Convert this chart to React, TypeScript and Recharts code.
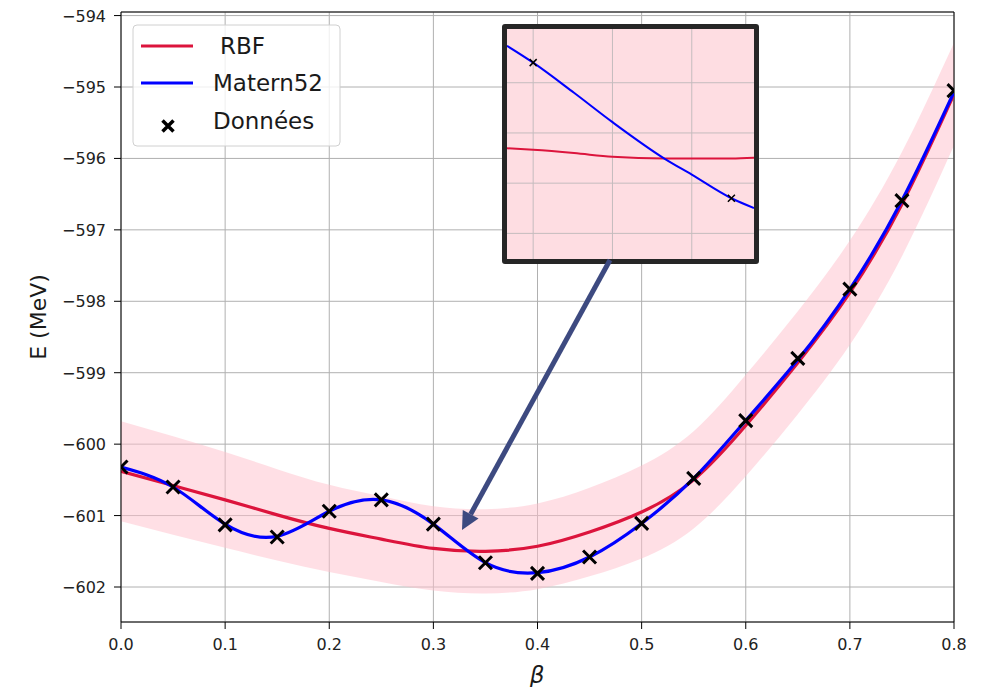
import React from 'react'
import {
  ComposedChart,
  LineChart,
  Line,
  Area,
  XAxis,
  YAxis,
  CartesianGrid,
  ReferenceLine
} from 'recharts'

// beta grid of the data points
const betas = [0, 0.05, 0.1, 0.15, 0.2, 0.25, 0.3, 0.35, 0.4, 0.45, 0.5, 0.55, 0.6, 0.65, 0.7, 0.75, 0.8]

// "Données" (black crosses)
const donnees = [
  -600.32, -600.6, -601.13, -601.3, -600.94, -600.78, -601.12, -601.66, -601.81,
  -601.58, -601.11, -600.48, -599.67, -598.8, -597.83, -596.59, -595.05
]

// RBF mean and its half band width
const rbfMean = [
  -600.38, -600.58, -600.78, -600.99, -601.18, -601.33, -601.46, -601.5, -601.43,
  -601.23, -600.95, -600.5, -599.74, -598.86, -597.88, -596.64, -595.1
]
const rbfHalf = [0.7, 0.69, 0.67, 0.64, 0.61, 0.6, 0.59, 0.59, 0.6, 0.62, 0.65, 0.68, 0.71, 0.72, 0.73, 0.73, 0.72]

// Matern52 mean
const matern52 = [
  -600.32, -600.6, -601.12, -601.29, -600.94, -600.78, -601.12, -601.66, -601.8,
  -601.58, -601.11, -600.48, -599.67, -598.82, -597.83, -596.59, -595.07
]

const xTicks = [0, 0.1, 0.2, 0.3, 0.4, 0.5, 0.6, 0.7, 0.8]
const yTicks = [-602, -601, -600, -599, -598, -597, -596, -595, -594]
const yDomain: [number, number] = [-602.49, -593.95]

// zoomed inset
const insetBetas = [0.2934, 0.3, 0.3103, 0.32, 0.3331, 0.34, 0.35, 0.3557]
const insetMatern = [-601.053, -601.12, -601.24, -601.357, -601.502, -601.566, -601.66, -601.699]
const insetMaternHalf = [0.004, 0.004, 0.012, 0.016, 0.012, 0.008, 0.004, 0.004]
const insetRbf = [-601.461, -601.467, -601.48, -601.495, -601.502, -601.502, -601.502, -601.499]
const insetPoints = [0.3, 0.35]
const insetXGrid = [0.3, 0.32, 0.34]
const insetYGrid = [-601.2, -601.4, -601.6, -601.8]

const rows = betas.map((b, i) => ({
  beta: b,
  data: donnees[i],
  rbf: rbfMean[i],
  band: [rbfMean[i] - rbfHalf[i], rbfMean[i] + rbfHalf[i]],
  matern: matern52[i]
}))

const insetRows = insetBetas.map((b, i) => ({
  beta: b,
  matern: insetMatern[i],
  mband: [insetMatern[i] - insetMaternHalf[i], insetMatern[i] + insetMaternHalf[i]],
  rbf: insetRbf[i],
  pt: insetPoints.includes(b) ? insetMatern[i] : null
}))

const FONT = '"DejaVu Sans", sans-serif'
const minus = (v: number) => (v < 0 ? `\u2212${Math.abs(v)}` : `${v}`)

const cross = (s: number, w: number) => (props: any) => {
  const { cx, cy, index } = props
  if (cx == null || cy == null || props.value == null) return <g key={`n-${index}`} />
  return (
    <path
      key={`x-${index}`}
      d={`M${cx - s},${cy - s}L${cx + s},${cy + s}M${cx - s},${cy + s}L${cx + s},${cy - s}`}
      stroke="#000"
      strokeWidth={w}
      fill="none"
    />
  )
}

const XTick = (p: any) => (
  <text x={p.x} y={p.y + 15} textAnchor="middle" fontSize={16} fill="#222" fontFamily={FONT}>
    {Number(p.payload.value).toFixed(1)}
  </text>
)

const YTick = (p: any) => (
  <text x={p.x} y={p.y + 6} textAnchor="end" fontSize={16} fill="#222" fontFamily={FONT}>
    {minus(p.payload.value)}
  </text>
)

function Inset() {
  return (
    <div
      style={{
        position: 'absolute',
        left: 502,
        top: 24,
        width: 257,
        height: 240,
        boxSizing: 'border-box',
        border: '5px solid #262626',
        borderRadius: 3,
        background: '#fedde2',
        overflow: 'hidden'
      }}
    >
      <LineChart width={247} height={230} data={insetRows} margin={{ top: 0, right: 0, bottom: 0, left: 0 }}>
        <XAxis dataKey="beta" type="number" domain={[0.2934, 0.3557]} hide allowDataOverflow />
        <YAxis type="number" domain={[-601.902, -600.986]} hide allowDataOverflow />
        {insetXGrid.map((v) => (
          <ReferenceLine key={`ix${v}`} x={v} stroke="#c4bcbe" strokeWidth={1} />
        ))}
        {insetYGrid.map((v) => (
          <ReferenceLine key={`iy${v}`} y={v} stroke="#c4bcbe" strokeWidth={1} />
        ))}
        <Area dataKey="mband" type="monotone" stroke="none" fill="#aab2dd" fillOpacity={0.6} isAnimationActive={false} />
        <Line dataKey="rbf" type="monotone" stroke="#dc143c" strokeWidth={2} dot={false} isAnimationActive={false} />
        <Line dataKey="matern" type="monotone" stroke="#0000ff" strokeWidth={2} dot={false} isAnimationActive={false} />
        <Line dataKey="pt" stroke="none" dot={cross(3.5, 1.5)} activeDot={false} isAnimationActive={false} />
      </LineChart>
    </div>
  )
}

export default function App() {
  // arrow geometry (from inset to region of interest)
  const tail = { x: 610, y: 260 }
  const tip = { x: 462, y: 530 }
  const dx = tip.x - tail.x
  const dy = tip.y - tail.y
  const len = Math.hypot(dx, dy)
  const ux = dx / len
  const uy = dy / len
  const bx = tip.x - 18 * ux
  const by = tip.y - 18 * uy
  const hw = 9

  return (
    <div style={{ position: 'absolute', left: 0, top: 0, width: 982, height: 687, background: '#fff', fontFamily: FONT }}>
      <ComposedChart width={982} height={687} data={rows} margin={{ top: 12, right: 28, bottom: 0, left: 0 }}>
        <CartesianGrid stroke="#b0b0b0" strokeWidth={1} />
        <XAxis
          dataKey="beta"
          type="number"
          domain={[0, 0.8]}
          ticks={xTicks}
          height={65}
          tick={<XTick />}
          tickSize={7}
          tickMargin={6}
          stroke="#000"
          allowDataOverflow
        />
        <YAxis
          type="number"
          domain={yDomain}
          ticks={yTicks}
          width={121}
          tick={<YTick />}
          tickSize={7}
          tickMargin={8}
          stroke="#000"
          allowDataOverflow
        />
        <ReferenceLine x={0.8} stroke="#000" strokeWidth={1} />
        <ReferenceLine y={yDomain[1]} stroke="#000" strokeWidth={1} />
        <Area dataKey="band" type="natural" stroke="none" fill="#ffc0cb" fillOpacity={0.5} isAnimationActive={false} />
        <Line dataKey="data" stroke="none" dot={cross(6.5, 3)} activeDot={false} isAnimationActive={false} />
        <Line dataKey="rbf" type="natural" stroke="#dc143c" strokeWidth={3.2} dot={false} isAnimationActive={false} />
        <Line dataKey="matern" type="natural" stroke="#0000ff" strokeWidth={3.2} dot={false} isAnimationActive={false} />
      </ComposedChart>

      <Inset />

      <svg width={982} height={687} style={{ position: 'absolute', left: 0, top: 0, pointerEvents: 'none' }}>
        {/* arrow */}
        <line x1={tail.x} y1={tail.y} x2={bx} y2={by} stroke="#3d4a80" strokeWidth={5} />
        <polygon
          points={`${tip.x},${tip.y} ${bx + hw * -uy},${by + hw * ux} ${bx - hw * -uy},${by - hw * ux}`}
          fill="#3d4a80"
        />
        {/* axis labels */}
        <text x={38} y={317} transform="rotate(-90 38 317)" textAnchor="middle" dominantBaseline="central" fontSize={22} fill="#1a1a1a" fontFamily={FONT}>
          E (MeV)
        </text>
        <text x={537} y={675} textAnchor="middle" dominantBaseline="central" fontSize={23} fontStyle="italic" fill="#1a1a1a" fontFamily={FONT}>
          β
        </text>
        {/* legend */}
        <rect x={133} y={25} width={207} height={121} rx={4} fill="#fff" fillOpacity={0.8} stroke="#d0d0d0" />
        <line x1={141} y1={46} x2={193} y2={46} stroke="#dc143c" strokeWidth={3} />
        <text x={220} y={46} dominantBaseline="central" fontSize={23} fill="#1a1a1a" fontFamily={FONT}>RBF</text>
        <line x1={141} y1={83} x2={193} y2={83} stroke="#0000ff" strokeWidth={3} />
        <text x={213} y={83} dominantBaseline="central" fontSize={23} fill="#1a1a1a" fontFamily={FONT}>Matern52</text>
        <path d="M162.5,120.5L173.5,131.5M162.5,131.5L173.5,120.5" stroke="#000" strokeWidth={3.5} />
        <text x={213} y={121} dominantBaseline="central" fontSize={23} fill="#1a1a1a" fontFamily={FONT}>Données</text>
      </svg>
    </div>
  )
}
